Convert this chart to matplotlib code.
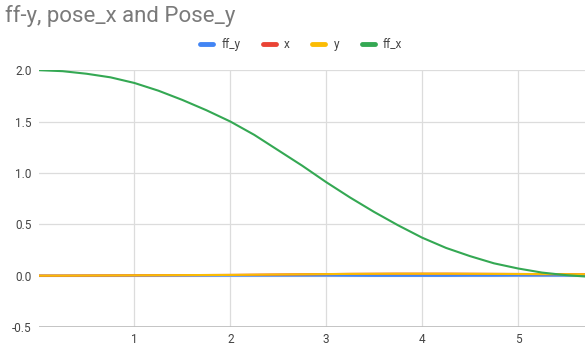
import matplotlib.pyplot as plt
from matplotlib.lines import Line2D

# samples along the time axis
t = [0.0, 0.25, 0.5, 0.75, 1.0, 1.25, 1.5, 1.75, 2.0, 2.25, 2.5, 2.75,
     3.0, 3.25, 3.5, 3.75, 4.0, 4.25, 4.5, 4.75, 5.0, 5.25, 5.5, 5.7]
ff_x = [2.0, 1.99, 1.965, 1.93, 1.875, 1.80, 1.71, 1.61, 1.50, 1.37, 1.22, 1.07,
        0.91, 0.76, 0.62, 0.49, 0.37, 0.27, 0.19, 0.12, 0.07, 0.03, 0.005, -0.008]
ff_y = [0.0, 0.0, 0.0, 0.0, 0.0, 0.0, 0.0, 0.0, 0.0, 0.0, 0.0, 0.0,
        0.0, -0.001, -0.002, -0.002, -0.002, -0.002, -0.001, -0.001, 0.0, 0.0, 0.0, 0.0]
pose_x = [0.0, 0.0, 0.001, 0.002, 0.003, 0.004, 0.005, 0.006, 0.007, 0.009, 0.011, 0.013,
          0.015, 0.017, 0.018, 0.019, 0.019, 0.019, 0.018, 0.017, 0.016, 0.015, 0.014, 0.013]
pose_y = [0.0, 0.0, 0.001, 0.002, 0.003, 0.004, 0.005, 0.006, 0.007, 0.009, 0.011, 0.013,
          0.015, 0.017, 0.018, 0.019, 0.019, 0.019, 0.018, 0.017, 0.016, 0.015, 0.014, 0.013]

series = [("ff_y", ff_y, "#4285f4"), ("x", pose_x, "#ea4335"),
          ("y", pose_y, "#fbbc04"), ("ff_x", ff_x, "#34a853")]

plt.rcParams['font.family'] = ['Roboto', 'DejaVu Sans']

fig = plt.figure(figsize=(5.85, 3.49), dpi=100)
ax = fig.add_axes([0.066, 0.063, 0.934, 0.736])

for name, vals, col in series:
  ax.plot(t, vals, color=col, lw=1.5, solid_capstyle='round')

ax.set_xlim(0, 5.7)
ax.set_ylim(-0.5, 2.0)
ax.set_xticks([1, 2, 3, 4, 5])
ax.set_yticks([-0.5, 0.0, 0.5, 1.0, 1.5, 2.0])
ax.set_yticklabels(["-0.5", "0.0", "0.5", "1.0", "1.5", "2.0"])
ax.grid(True, color="#dcdcdc", lw=0.9)
ax.set_axisbelow(True)
for s in ax.spines.values():
  s.set_visible(False)
ax.tick_params(length=0, labelsize=8.5, labelcolor="#444444", pad=4)
ax.tick_params(axis='y', pad=5)
ax.axhline(-0.5, color="#bbbbbb", lw=1.2, zorder=1)

fig.text(0.009, 0.955, "ff-y, pose_x and Pose_y", fontsize=16, color="#7a7a7a", va="center")

handles = [Line2D([0], [0], color=c, lw=3.5, solid_capstyle='round') for _, _, c in series]
fig.legend(handles, [n for n, _, _ in series], loc="center", bbox_to_anchor=(0.515, 0.872),
           ncol=4, frameon=False, fontsize=8.5, handlelength=1.1, handletextpad=0.7,
           columnspacing=1.9, labelcolor="#444444")

fig.savefig("out.png", dpi=100)
